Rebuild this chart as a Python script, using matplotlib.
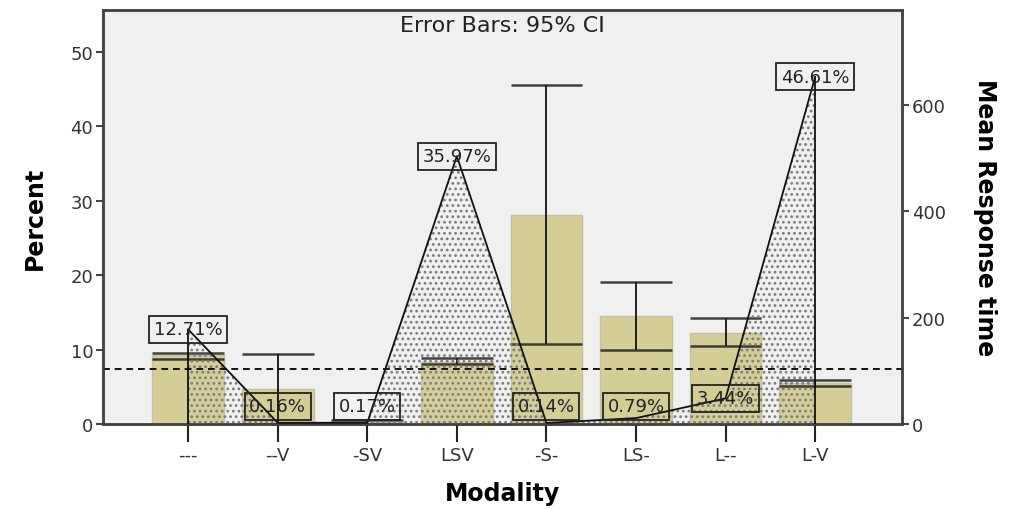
import matplotlib
matplotlib.use("Agg")
import matplotlib.pyplot as plt
import numpy as np

categories = ['---', '--V', '-SV', 'LSV', '-S-', 'LS-', 'L--', 'L-V']
percent = [12.71, 0.16, 0.17, 35.97, 0.14, 0.79, 3.44, 46.61]
mean_rt = [130, 66, 4, 117, 394, 204, 172, 78]
ci_low = [122, 0, 0, 113, 150, 139, 146, 72]
ci_high = [133, 132, 7, 125, 637, 268, 200, 82]
ref_rt = 103

plt.rcParams['font.family'] = ['DejaVu Sans']
plt.rcParams['hatch.linewidth'] = 1.2

fig = plt.figure(figsize=(10.15, 5.10), dpi=100)
ax = fig.add_axes([0.1015, 0.1667, 0.7872, 0.8118])
ax2 = ax.twinx()
ax.set_zorder(2)
ax.patch.set_visible(False)
ax2.set_zorder(1)
ax2.patch.set_facecolor('#f0f0f0')
ax2.patch.set_visible(True)

x = np.arange(len(categories))
bw = 0.8
ax2.bar(x, mean_rt, width=bw, color='#d4ce96', edgecolor='#c4c0a0', linewidth=1.0, zorder=1)
for xi, lo, hi in zip(x, ci_low, ci_high):
    ax2.vlines(xi, lo, hi, color='#111111', lw=1.3, zorder=3)
    ax2.hlines([lo, hi], xi - bw / 2, xi + bw / 2, color='#222222', lw=1.8, alpha=0.85, zorder=3)
ax2.axhline(ref_rt, color='#111111', lw=1.4, ls=(0, (3.5, 2.5)), zorder=4)

ax2.set_ylim(0, 779)
ax2.set_yticks([0, 200, 400, 600])

# Area (percent)
ax.fill_between(x, 0, percent, facecolor='none', edgecolor='#7c7c7c', linewidth=0,
                hatch='...', zorder=2)
ax.plot(x, percent, color='#111111', lw=1.3, zorder=5)
ax.vlines([x[0], x[-1]], 0, [percent[0], percent[-1]], color='#111111', lw=1.3, zorder=5)

for xi, p in zip(x, percent):
    ypos = max(p, 2.4)
    ax.text(xi, ypos, f'{p:.2f}%', ha='center', va='center', fontsize=13, color='#222222',
            zorder=6,
            bbox=dict(boxstyle='square,pad=0.25', facecolor='none', edgecolor='#222222', lw=1.3))

ax.set_xlim(-0.95, 7.97)
ax.set_ylim(0, 55.6)
ax.set_yticks([0, 10, 20, 30, 40, 50])
ax.set_xticks(x)
ax.set_xticklabels(categories)

for a in (ax, ax2):
    for s in a.spines.values():
        s.set_color('#444444')
        s.set_linewidth(1.8)
ax.tick_params(axis='y', direction='out', length=5, width=1.5, color='#444444',
               labelsize=13, labelcolor='#333333', pad=2)
ax.tick_params(axis='x', direction='out', length=13, width=1.5, color='#222222',
               labelsize=13, labelcolor='#333333', pad=3)
ax2.tick_params(axis='y', direction='out', length=5, width=1.5, color='#444444',
                labelsize=13, labelcolor='#333333', pad=2)

ax.set_ylabel('Percent', fontsize=17, fontweight='bold', labelpad=17)
ax.set_xlabel('Modality', fontsize=17, fontweight='bold', labelpad=12)
ax2.set_ylabel('Mean Response time', fontsize=17, fontweight='bold', rotation=270, labelpad=37)

ax.text(0.5, 0.988, 'Error Bars: 95% CI', transform=ax.transAxes, ha='center', va='top',
        fontsize=16, color='#222222', zorder=7)

fig.savefig('out.png', dpi=100)
